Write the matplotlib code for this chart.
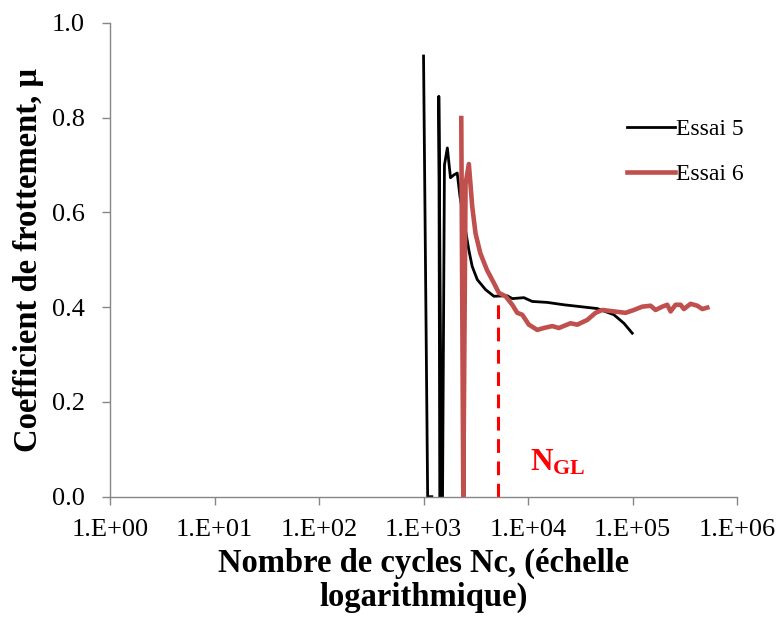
import numpy as np
import matplotlib
matplotlib.use("Agg")
import matplotlib.pyplot as plt

# Essai 5 (black) - NaN marks gaps in the recorded series
essai5_cycles = [1000, 1095, 1200, np.nan, 1430, 1400, 1487, 1520, 1585, 1690, 1810, 1950,
                 2100, 2230, 2520, 2710, 2920, 3270, 3920, 4710, 6320, 7060, 9120,
                 10970, 15260, 22000, 31800, 45950, 66200, 82600, 99300]
essai5_mu = [0.93, 0.0, 0.0, np.nan, 0.0, 0.845, 0.0, 0.0, 0.70, 0.736, 0.673, 0.679,
             0.683, 0.634, 0.563, 0.521, 0.486, 0.458, 0.437, 0.423, 0.424, 0.418, 0.420,
             0.412, 0.410, 0.405, 0.401, 0.397, 0.384, 0.366, 0.345]

# Essai 6 (red)
essai6_cycles = [2296, 2400, 2523, 2713, 2924, 3142, 3490, 4033, 4707, 5260, 6095, 7063,
                 7883, 8800, 10180, 12250, 14170, 17040, 19710, 25510, 29570, 36860,
                 44250, 51290, 66220, 85700, 102900, 123800, 148700, 166000, 192400,
                 214800, 231000, 257900, 288000, 309700, 358900, 415900, 464500, 518700]
essai6_mu = [0.799, 0.0, 0.66, 0.702, 0.612, 0.556, 0.514, 0.479, 0.451, 0.430, 0.423, 0.405,
             0.388, 0.384, 0.363, 0.352, 0.356, 0.360, 0.356, 0.366, 0.363, 0.373,
             0.388, 0.394, 0.391, 0.388, 0.394, 0.401, 0.403, 0.394, 0.401,
             0.405, 0.391, 0.405, 0.405, 0.396, 0.407, 0.403, 0.396, 0.399]

n_gl = 5140
n_gl_mu = 0.423

x_ticks = [1e0, 1e1, 1e2, 1e3, 1e4, 1e5, 1e6]
x_tick_labels = ["1.E+00", "1.E+01", "1.E+02", "1.E+03", "1.E+04", "1.E+05", "1.E+06"]
y_ticks = [0.0, 0.2, 0.4, 0.6, 0.8, 1.0]

plt.rcParams["font.family"] = ["Liberation Serif", "DejaVu Serif"]
plt.rcParams["mathtext.fontset"] = "custom"
plt.rcParams["mathtext.rm"] = "Liberation Serif"
plt.rcParams["mathtext.bf"] = "Liberation Serif:bold"

fig = plt.figure(figsize=(7.8, 6.17), dpi=100)
ax = fig.add_axes([0.141, 0.195, 0.804, 0.768])

ax.plot(essai5_cycles, essai5_mu, color="black", lw=2.0, label="Essai 5")
ax.plot(essai6_cycles, essai6_mu, color="#C0504D", lw=3.3, label="Essai 6")
ax.plot([n_gl, n_gl], [0, n_gl_mu], color="#FF0000", lw=2.2, ls=(0, (4.5, 2.8)))
ax.text(10500, 0.055, r"$\mathbf{N_{GL}}$", color="#FF0000", fontsize=22.5)

ax.set_xscale("log")
ax.set_xlim(1, 1e6)
ax.set_ylim(0, 1.0)
ax.set_xticks(x_ticks)
ax.set_xticklabels(x_tick_labels)
ax.minorticks_off()
ax.set_yticks(y_ticks)
ax.set_yticklabels([f"{v:.1f}" for v in y_ticks])

for side in ["top", "right"]:
    ax.spines[side].set_visible(False)
for side in ["left", "bottom"]:
    ax.spines[side].set_color("#868686")
    ax.spines[side].set_linewidth(1.0)
ax.tick_params(axis="both", direction="out", length=6, width=1.0, color="#868686",
               labelsize=19)
ax.tick_params(axis="x", pad=10)
ax.tick_params(axis="y", pad=12)

ax.set_ylabel("Coefficient de frottement, µ", fontsize=23.5, fontweight="bold", labelpad=6)
ax.set_xlabel("Nombre de cycles Nc, (échelle\nlogarithmique)", fontsize=23.5,
              fontweight="bold", linespacing=1.1, labelpad=5)

ax.legend(loc="upper left", bbox_to_anchor=(0.777, 0.842), bbox_transform=fig.transFigure,
          frameon=False, fontsize=17, handlelength=2.0, handletextpad=0.05,
          labelspacing=1.0)

fig.savefig("out.png", dpi=100)
